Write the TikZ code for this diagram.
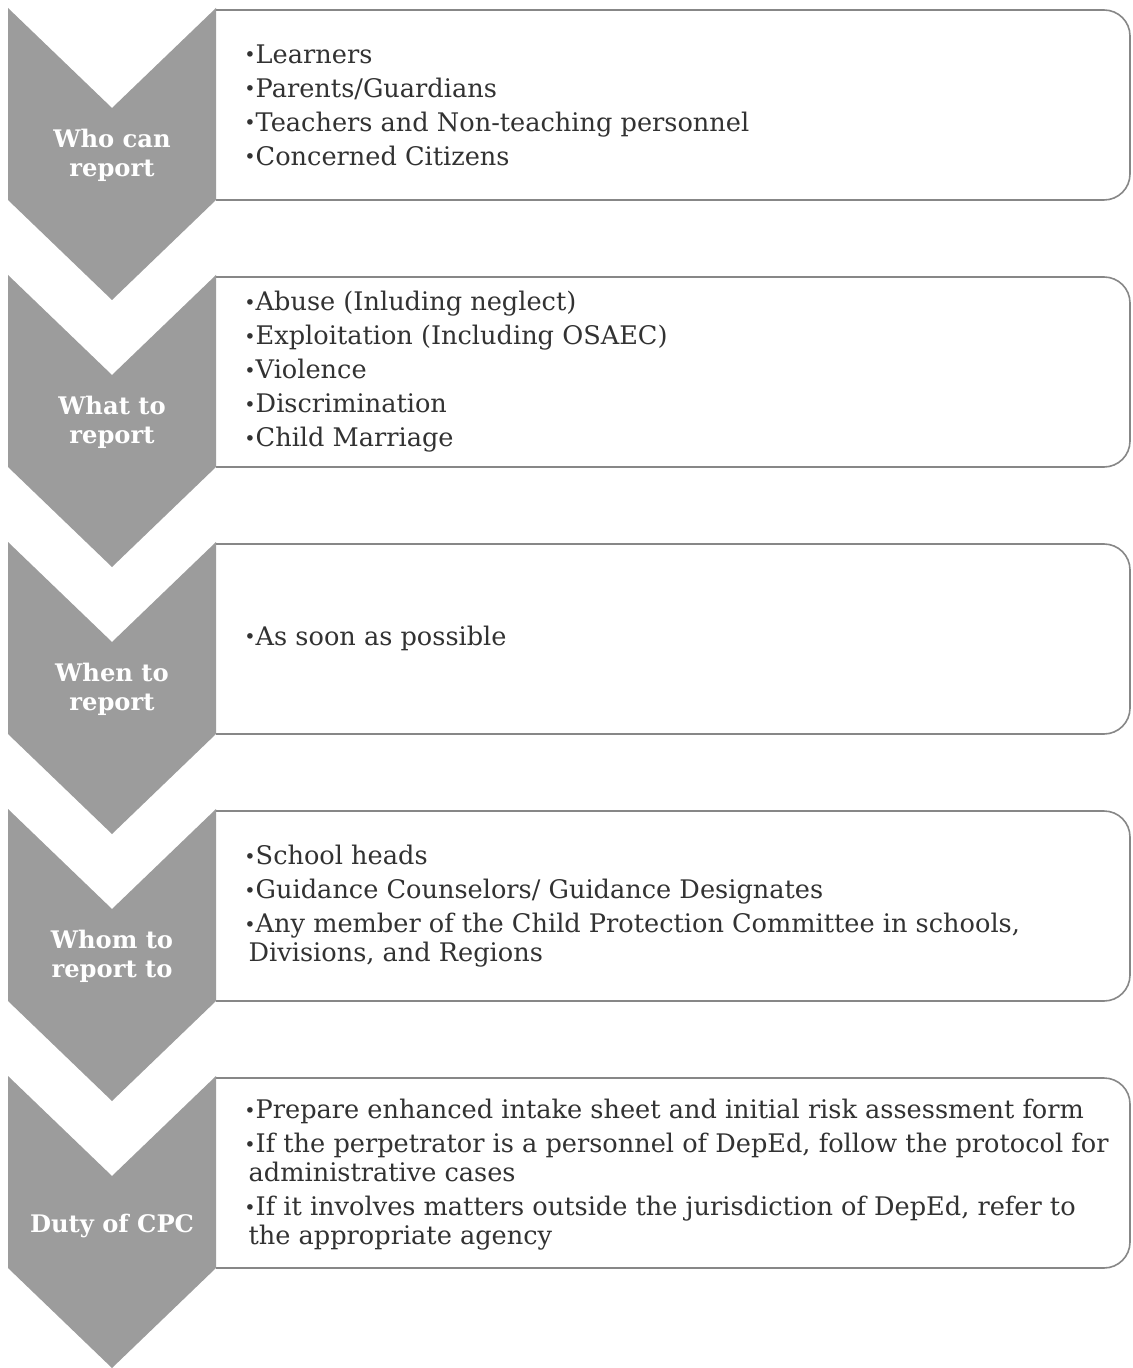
\documentclass[tikz,border=0pt]{standalone}
\usepackage{fontspec}
\setmainfont{DejaVu Serif}
\usetikzlibrary{positioning}

\definecolor{chevgray}{RGB}{156,156,156}
\definecolor{boxline}{RGB}{135,135,135}
\definecolor{txtgray}{RGB}{50,50,50}

\tikzset{
  chevron/.style={fill=chevgray, draw=none},
  itembox/.style={draw=boxline, line width=0.8pt, fill=white, rounded corners=13pt},
  steplabel/.style={text=white, font=\bfseries\fontsize{12.1}{14.5}\selectfont, align=center, inner sep=0pt},
  itemlist/.style={anchor=west, text=txtgray, font=\fontsize{12.8}{14.5}\selectfont, align=left, inner sep=0pt},
}
\newcommand{\bul}{\raisebox{0.1ex}{\scalebox{0.75}{\textbullet}}}

\begin{document}
\begin{tikzpicture}[x=0.5pt, y=-0.5pt]
  \useasboundingbox (0,0) rectangle (1132,1368);

  % Boxes and chevrons, one per step (top of each chevron)
  \foreach \t in {8,275,542,809,1076} {
    \draw[itembox] (216,\t+2) -- (1130,\t+2) -- (1130,\t+192) -- (216,\t+192);
    \fill[chevron] (8,\t) -- (112,\t+100) -- (216,\t) -- (216,\t+192)
      -- (112,\t+292) -- (8,\t+192) -- cycle;
  }

  % Step labels
  \node[steplabel] (who)  at (112,155)  {Who can\\report};
  \node[steplabel] (what) at (112,422)  {What to\\report};
  \node[steplabel] (when) at (112,689)  {When to\\report};
  \node[steplabel] (whom) at (112,956)  {Whom to\\report to};
  \node[steplabel] (duty) at (112,1226) {Duty of CPC};

  % Item lists
  \node[itemlist] (whoList) at (244,105) {%
    \bul Learners\\[2.5pt]
    \bul Parents/Guardians\\[2.5pt]
    \bul Teachers and Non-teaching personnel\\[2.5pt]
    \bul Concerned Citizens};
  \node[itemlist] (whatList) at (244,372) {%
    \bul Abuse (Inluding neglect)\\[2.5pt]
    \bul Exploitation (Including OSAEC)\\[2.5pt]
    \bul Violence\\[2.5pt]
    \bul Discrimination\\[2.5pt]
    \bul Child Marriage};
  \node[itemlist] (whenList) at (244,638) {%
    \bul As soon as possible};
  \node[itemlist] (whomList) at (244,906) {%
    \bul School heads\\[2.5pt]
    \bul Guidance Counselors/ Guidance Designates\\[2.5pt]
    \bul Any member of the Child Protection Committee in schools,\\
    \,Divisions, and Regions};
  \node[itemlist] (dutyList) at (244,1175) {%
    \bul Prepare enhanced intake sheet and initial risk assessment form\\[2.5pt]
    \bul If the perpetrator is a personnel of DepEd, follow the protocol for\\
    \,administrative cases\\[2.5pt]
    \bul If it involves matters outside the jurisdiction of DepEd, refer to\\
    \,the appropriate agency};
\end{tikzpicture}
\end{document}
